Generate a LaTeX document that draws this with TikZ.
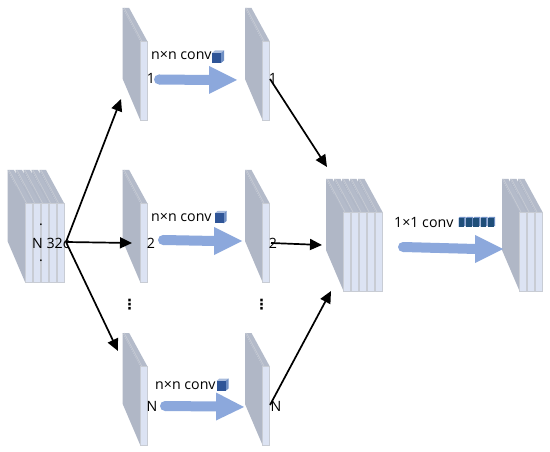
\documentclass[tikz,border=0pt]{standalone}
\usepackage{fontspec}
\setmainfont{Open Sans}
\newfontfamily\symfont{DejaVu Sans}
\usetikzlibrary{arrows.meta}
\definecolor{sideg}{HTML}{B0B7C6}
\definecolor{topg}{HTML}{B4BBCA}
\definecolor{front}{HTML}{DCE3F3}
\definecolor{edge}{HTML}{C8CCD4}
\definecolor{flow}{HTML}{8CA8DC}
\definecolor{cubef}{HTML}{2F5597}
\definecolor{cubes}{HTML}{6F8FC4}
\definecolor{cubet}{HTML}{A9BCDD}
\definecolor{cuben}{HTML}{1F4E79}
\tikzset{
  lab/.style={inner sep=0pt,font=\fontsize{14.2}{15}\selectfont,text=black},
  conv/.style={-{Triangle[length=12pt,width=11pt]},line width=1.7pt,black},
}
% #1 back-left x, #2 top y, #3 number of slabs, #4 pitch
\newcommand{\slabs}[4]{%
  \foreach \i in {#3,...,1}{%
    \pgfmathsetmacro{\xx}{#1+(\i-1)*#4}%
    \fill[sideg] (\xx,#2) -- (\xx+17.5,#2+33) -- (\xx+17.5,#2+112) -- (\xx,#2+71) -- cycle;
    \fill[topg] (\xx,#2) -- (\xx+6.5,#2) -- (\xx+24.5,#2+33) -- (\xx+17.5,#2+33) -- cycle;
    \draw[edge,line width=.6pt] (\xx+1.5,#2) -- (\xx+19,#2+33);
    \fill[front] (\xx+17.5,#2+33) rectangle (\xx+24.5,#2+112);
    \draw[edge,line width=.9pt] (\xx+17.5,#2+112) -- (\xx+17.5,#2+33) -- (\xx+24.5,#2+33) -- (\xx+24.5,#2+112) -- cycle;
  }%
}
% x0 y0 xb yb xt yt
\newcommand{\flowarrow}[6]{%
  \fill[flow] (#1,#2) circle[radius=5];
  \fill[flow] (#1,#2-5) -- (#3+1,#4-5) -- (#3+1,#4+5) -- (#1,#2+5) -- cycle;
  \fill[flow] (#3,#4-14) -- (#5,#6) -- (#3,#4+14) -- cycle;
}
\newcommand{\cube}[2]{%
  \fill[cubet] (#1,#2) -- (#1+3,#2-2.5) -- (#1+12,#2-2.5) -- (#1+9,#2) -- cycle;
  \fill[cubes] (#1+9,#2) -- (#1+12,#2-2.5) -- (#1+12,#2+7.5) -- (#1+9,#2+10) -- cycle;
  \fill[cubef] (#1,#2) rectangle (#1+9,#2+10);
}
\newcommand{\minicube}[2]{%
  \fill[cubes] (#1,#2) -- (#1+1,#2-1) -- (#1+7,#2-1) -- (#1+7,#2+8) -- (#1,#2+9) -- cycle;
  \fill[cuben] (#1,#2) rectangle (#1+5.6,#2+9);
}
\begin{document}
\begin{tikzpicture}[x=1pt,y=-1pt]
\useasboundingbox (0,0) rectangle (550,452);
\fill[white] (0,0) rectangle (550,452);
% stacks
\slabs{7.5}{170}{5}{8}
\slabs{326}{179}{5}{8}
\slabs{502}{179}{3}{8}
\slabs{122.7}{8}{1}{8}
\slabs{122.7}{170}{1}{8}
\slabs{122.7}{333}{1}{8}
\slabs{245}{8}{1}{8}
\slabs{245}{170}{1}{8}
\slabs{245}{333}{1}{8}
% flow arrows
\flowarrow{159}{79.5}{209}{80}{237}{80}
\flowarrow{163}{240}{214}{241}{242}{241}
\flowarrow{165}{406}{216}{406.5}{244}{407}
\flowarrow{403}{247}{475}{249}{503}{249}
% text
\node[lab,anchor=base west] (c1) at (151,60) {n×n conv};
\node[lab,anchor=base west] (c2) at (151,222) {n×n conv};
\node[lab,anchor=base west] (c3) at (155,389) {n×n conv};
\node[lab,anchor=base west] (c4) at (394,228) {1×1 conv};
\cube{212}{53}
\cube{214.5}{213.5}
\cube{216.5}{381}
\foreach \k in {0,...,4}{\minicube{458.5+\k*7.4}{218}}
\node[lab,anchor=base west] (src) at (32,248) {N 32c};
\node[lab] (dota) at (41,225) {.};
\node[lab] (dotb) at (41,261) {.};
\node[lab,anchor=base] (a1) at (151,84) {1};
\node[lab,anchor=base] (a2) at (151,248) {2};
\node[lab,anchor=base] (aN) at (152,411) {N};
\node[lab,anchor=base] (b1) at (273,84) {1};
\node[lab,anchor=base] (b2) at (273,248) {2};
\node[lab,anchor=base] (bN) at (276,411) {N};
\node[lab,font=\symfont\bfseries\fontsize{14}{14}\selectfont] (v1) at (129.5,304.5) {⋮};
\node[lab,font=\symfont\bfseries\fontsize{14}{14}\selectfont] (v2) at (261.5,304.5) {⋮};
% connectors
\coordinate (s) at (66,242);
\coordinate (t1) at (121,99);
\coordinate (t2) at (132,243);
\coordinate (t3) at (118,351);
\coordinate (u1) at (270,79);
\coordinate (u2) at (271,243);
\coordinate (u3) at (270,405);
\coordinate (m1) at (327,167);
\coordinate (m2) at (322,245);
\coordinate (m3) at (331,291);
\draw[conv] (s) -- (t1);
\draw[conv] (s) -- (t2);
\draw[conv] (s) -- (t3);
\draw[conv] (u1) -- (m1);
\draw[conv] (u2) -- (m2);
\draw[conv] (u3) -- (m3);
\end{tikzpicture}
\end{document}
